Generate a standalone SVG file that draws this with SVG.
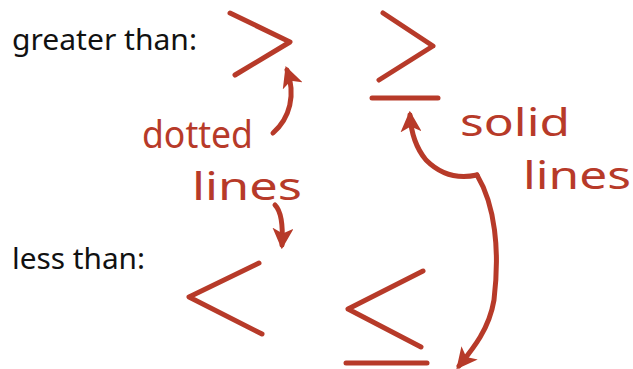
<svg xmlns="http://www.w3.org/2000/svg" width="633" height="369" viewBox="0 0 633 369">
  <style>
    .label { font-family: "Noto Sans", "Liberation Sans", sans-serif; font-size: 29px; fill: #111; }
    .ink { fill: none; stroke: #b73a29; stroke-width: 5; stroke-linecap: round; stroke-linejoin: round; }
    .hand { font-family: "Noto Sans", "Liberation Sans", sans-serif; font-size: 38px; fill: #b73a29; }
  </style>
  <defs>
    <marker id="head" viewBox="0 0 10 10" refX="8" refY="5" markerWidth="4.2" markerHeight="4.2" orient="auto" markerUnits="strokeWidth">
      <path d="M0,0 L10,5 L0,10 L2.5,5 Z" fill="#b73a29"/>
    </marker>
  </defs>
  <rect width="633" height="369" fill="#fff"/>

  <!-- row labels -->
  <g id="greater-label"><text class="label" x="12" y="50" textLength="185" lengthAdjust="spacingAndGlyphs">greater than:</text></g>
  <g id="less-label"><text class="label" x="12" y="269" textLength="133" lengthAdjust="spacingAndGlyphs">less than:</text></g>

  <!-- comparison symbols -->
  <g id="gt"><polyline class="ink" points="230,13 290,42 235,75"/></g>
  <g id="ge">
    <polyline class="ink" points="383,13 433,46 379,80"/>
    <line class="ink" x1="372" y1="98" x2="438" y2="98"/>
  </g>
  <g id="lt"><polyline class="ink" points="259,263 189,297 262,334"/></g>
  <g id="le">
    <polyline class="ink" points="423,271 348,309 421,347"/>
    <line class="ink" x1="346" y1="363" x2="427" y2="363"/>
  </g>

  <!-- handwritten notes -->
  <g id="dotted-note">
    <text class="hand" x="142" y="148" textLength="111" lengthAdjust="spacingAndGlyphs">dotted</text>
    <text class="hand" x="192" y="200" textLength="110" lengthAdjust="spacingAndGlyphs">lines</text>
  </g>
  <g id="solid-note">
    <text class="hand" x="460" y="136" textLength="110" lengthAdjust="spacingAndGlyphs">solid</text>
    <text class="hand" x="523" y="189" textLength="108" lengthAdjust="spacingAndGlyphs">lines</text>
  </g>

  <!-- connectors -->
  <g id="connectors">
    <path class="ink" marker-end="url(#head)" d="M273,133 C290,118 296,95 287,70"/>
    <path class="ink" marker-end="url(#head)" d="M275,205 C282,212 283,228 282,245"/>
    <path class="ink" marker-end="url(#head)" d="M477,175 C455,180 438,172 426,160 C416,148 411,132 410,115"/>
    <path class="ink" marker-end="url(#head)" d="M477,175 C495,205 500,250 494,300 C489,330 472,350 459,366"/>
  </g>
</svg>
